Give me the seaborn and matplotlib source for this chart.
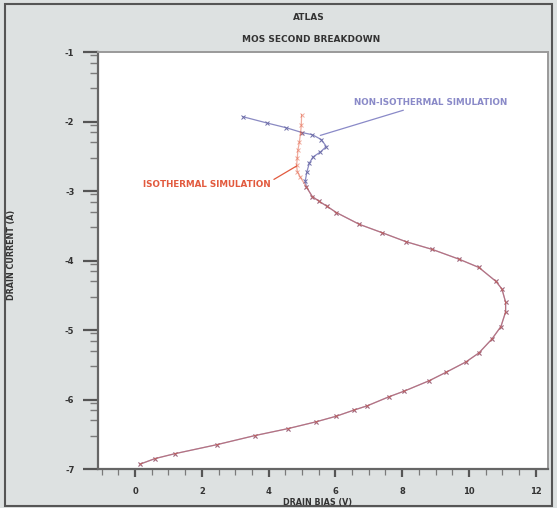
import numpy as np
import pandas as pd
import matplotlib
matplotlib.use("Agg")
import matplotlib.pyplot as plt
from matplotlib.ticker import FixedLocator, MultipleLocator
from matplotlib.patches import Rectangle
import seaborn as sns

# ---------------- data ----------------
# shared (overlapping) lower branch, log10 drain current vs drain bias
shared_bias = [5.13, 5.31, 5.52, 5.75, 6.03, 6.72, 7.40, 8.12, 8.90, 9.70, 10.30,
               10.81, 10.99, 11.10, 11.10, 10.96, 10.69, 10.30, 9.91, 9.31, 8.81,
               8.06, 7.61, 6.96, 6.57, 6.03, 5.43, 4.57, 3.58, 2.45, 1.19, 0.60, 0.15]
shared_logi = [-2.94, -3.08, -3.15, -3.22, -3.31, -3.48, -3.60, -3.73, -3.84, -3.98,
               -4.10, -4.30, -4.41, -4.60, -4.74, -4.95, -5.13, -5.33, -5.46, -5.61,
               -5.73, -5.88, -5.96, -6.09, -6.15, -6.24, -6.32, -6.42, -6.52, -6.65,
               -6.78, -6.85, -6.93]

# isothermal upper branch
iso_top_bias = [4.99, 4.98, 4.96, 4.92, 4.88, 4.86, 4.84, 4.86, 4.95]
iso_top_logi = [-1.90, -2.05, -2.16, -2.30, -2.41, -2.52, -2.63, -2.72, -2.80]

# non-isothermal upper branch
noniso_top_bias = [3.22, 3.94, 4.53, 5.01, 5.31, 5.58, 5.73, 5.55, 5.33, 5.22, 5.15, 5.10]
noniso_top_logi = [-1.93, -2.02, -2.09, -2.16, -2.19, -2.26, -2.36, -2.44, -2.51, -2.60,
                   -2.72, -2.85]

x_ticks = [0, 2, 4, 6, 8, 10, 12]
x_tick_labels = ["0", "2", "4", "6", "8", "10", "12"]
y_ticks = [-1, -2, -3, -4, -5, -6, -7]
y_tick_labels = ["-1", "-2", "-3", "-4", "-5", "-6", "-7"]

iso = pd.DataFrame({"bias": iso_top_bias + shared_bias,
                    "logi": iso_top_logi + shared_logi})
noniso = pd.DataFrame({"bias": noniso_top_bias + shared_bias,
                       "logi": noniso_top_logi + shared_logi})

# ---------------- figure ----------------
sns.set_style("white")
plt.rcParams["font.family"] = ["DejaVu Sans"]
plt.rcParams["axes.unicode_minus"] = False

fig = plt.figure(figsize=(5.57, 5.08), dpi=100, facecolor="#dde1e1")
ax = fig.add_axes([98 / 557, 1 - 469 / 508, 450 / 557, 417 / 508])
ax.set_facecolor("white")

blue = "#8a8ac2"
red = "#e25a3e"

sns.lineplot(data=noniso, x="bias", y="logi", sort=False, estimator=None, ax=ax,
             color=blue, lw=0.9, marker="x", markersize=3.2, markeredgewidth=0.7,
             markeredgecolor="#6e6ea8")
sns.lineplot(data=iso, x="bias", y="logi", sort=False, estimator=None, ax=ax,
             color=red, lw=0.9, alpha=0.5, marker="x", markersize=3.2,
             markeredgewidth=0.7, markeredgecolor=red)

ax.set_xlim(-1.11, 12.37)
ax.set_ylim(-7, -1)

# ticks
ax.set_xticks(x_ticks)
ax.set_xticklabels(x_tick_labels)
ax.xaxis.set_minor_locator(MultipleLocator(0.5))
ax.set_yticks(y_ticks)
ax.set_yticklabels(y_tick_labels)
minor_y = [d + np.log10(k) for d in range(-7, -1) for k in (3, 5, 7, 9)]
ax.yaxis.set_minor_locator(FixedLocator(minor_y))

ax.tick_params(axis="y", which="major", direction="out", length=11, width=1.6,
               color="#555555", labelsize=6, labelcolor="#333333", pad=6, left=True)
ax.tick_params(axis="y", which="minor", direction="out", length=6, width=1.0,
               color="#7a7a7a", left=True)
ax.tick_params(axis="x", which="major", direction="out", length=6, width=1.6,
               color="#555555", labelsize=6, labelcolor="#333333", pad=7, bottom=True)
ax.tick_params(axis="x", which="minor", direction="out", length=4, width=0.9,
               color="#7a7a7a", bottom=True)
for lab in ax.get_xticklabels() + ax.get_yticklabels():
    lab.set_fontweight("bold")

for side in ["left", "bottom"]:
    ax.spines[side].set_color("#666666")
    ax.spines[side].set_linewidth(1.6)
for side in ["top", "right"]:
    ax.spines[side].set_color("#9a9a9a")
    ax.spines[side].set_linewidth(1.4)

ax.set_xlabel("")
ax.set_ylabel("")

# annotations
ax.annotate("NON-ISOTHERMAL SIMULATION", xy=(5.55, -2.20), xytext=(6.55, -1.72),
            fontsize=6.3, fontweight="bold", color="#8a8ac8", ha="left", va="center",
            arrowprops=dict(arrowstyle="-", color="#8a8ac8", lw=0.9,
                            shrinkA=1, shrinkB=0))
ax.annotate("ISOTHERMAL SIMULATION", xy=(4.84, -2.64), xytext=(2.15, -2.90),
            fontsize=6.3, fontweight="bold", color=red, ha="center", va="center",
            arrowprops=dict(arrowstyle="-", color=red, lw=0.9,
                            shrinkA=0, shrinkB=0,
                            relpos=(1.0, 0.8)))

# titles and axis labels
fig.text(309 / 557, 1 - 17 / 508, "ATLAS", ha="center", va="center",
         fontsize=6.5, fontweight="bold", color="#333333")
fig.text(311 / 557, 1 - 40 / 508, "MOS SECOND BREAKDOWN", ha="center", va="center",
         fontsize=6.5, fontweight="bold", color="#333333")
fig.text(318 / 557, 1 - 502 / 508, "DRAIN BIAS (V)", ha="center", va="center",
         fontsize=5.8, fontweight="bold", color="#333333")
fig.text(12 / 557, 1 - 255 / 508, "DRAIN CURRENT (A)", ha="center", va="center",
         rotation=90, fontsize=5.8, fontweight="bold", color="#333333")

# figure border
fig.patches.append(Rectangle((5 / 557, 2 / 508), 547 / 557, 502 / 508,
                             transform=fig.transFigure, fill=False,
                             edgecolor="#555555", linewidth=1.5))

fig.savefig("out.png", dpi=100, facecolor=fig.get_facecolor())
